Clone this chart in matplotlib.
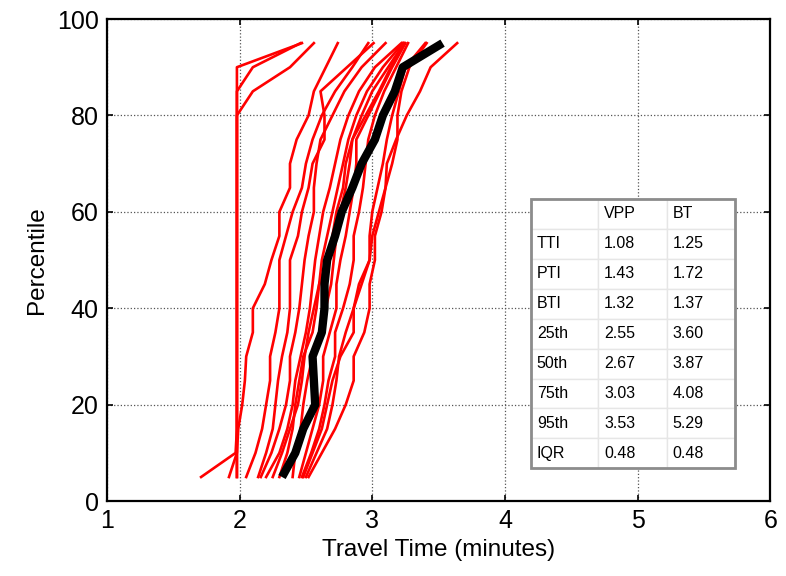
import numpy as np
import matplotlib
matplotlib.use("Agg")
import matplotlib.pyplot as plt

plt.rcParams['font.family'] = ['Liberation Sans', 'DejaVu Sans']

# percentile levels of each curve
pct = [5, 10, 15, 20, 25, 30, 35, 40, 45, 50, 55, 60, 65, 70, 75, 80, 85, 90, 95]

# individual day curves (travel time in minutes at each percentile)
red_lines = [
    [1.71, 1.97, 1.98, 1.98, 1.98, 1.98, 1.98, 1.98, 1.98, 1.98, 1.98, 1.98, 1.98, 1.98, 1.98, 1.98, 1.98, 1.98, 2.47],
    [1.92, 1.98, 1.98, 1.98, 1.98, 1.98, 1.98, 1.98, 1.98, 1.98, 1.98, 1.98, 1.98, 1.98, 1.98, 1.98, 1.98, 2.10, 2.46],
    [1.98, 1.98, 1.98, 1.98, 1.98, 1.98, 1.98, 1.98, 1.98, 1.98, 1.98, 1.98, 1.98, 1.98, 1.98, 1.98, 2.10, 2.38, 2.56],
    [1.98, 1.98, 1.99, 2.02, 2.04, 2.05, 2.10, 2.10, 2.19, 2.24, 2.30, 2.30, 2.38, 2.38, 2.43, 2.52, 2.56, 2.65, 2.74],
    [2.05, 2.12, 2.17, 2.20, 2.23, 2.23, 2.27, 2.30, 2.30, 2.30, 2.35, 2.40, 2.47, 2.50, 2.55, 2.62, 2.72, 2.85, 2.97],
    [2.14, 2.20, 2.25, 2.27, 2.29, 2.32, 2.36, 2.38, 2.38, 2.38, 2.44, 2.47, 2.52, 2.55, 2.64, 2.64, 2.61, 2.81, 3.01],
    [2.16, 2.24, 2.30, 2.35, 2.38, 2.38, 2.42, 2.45, 2.47, 2.49, 2.52, 2.56, 2.56, 2.58, 2.61, 2.70, 2.79, 2.92, 3.10],
    [2.20, 2.30, 2.36, 2.40, 2.42, 2.46, 2.50, 2.53, 2.55, 2.57, 2.60, 2.63, 2.68, 2.72, 2.76, 2.82, 2.90, 3.02, 3.22],
    [2.25, 2.32, 2.38, 2.44, 2.47, 2.49, 2.52, 2.56, 2.60, 2.62, 2.66, 2.70, 2.74, 2.78, 2.82, 2.88, 2.96, 3.08, 3.23],
    [2.40, 2.42, 2.46, 2.48, 2.51, 2.55, 2.60, 2.65, 2.69, 2.71, 2.73, 2.76, 2.80, 2.83, 2.85, 2.92, 3.00, 3.12, 3.24],
    [2.45, 2.50, 2.55, 2.60, 2.63, 2.63, 2.68, 2.73, 2.73, 2.76, 2.80, 2.83, 2.86, 2.88, 2.88, 2.97, 3.06, 3.15, 3.25],
    [2.47, 2.54, 2.60, 2.64, 2.67, 2.72, 2.72, 2.78, 2.83, 2.86, 2.86, 2.90, 2.93, 2.95, 2.97, 3.02, 3.09, 3.18, 3.27],
    [2.50, 2.58, 2.66, 2.70, 2.73, 2.75, 2.80, 2.86, 2.90, 2.98, 2.98, 3.00, 3.04, 3.08, 3.11, 3.15, 3.20, 3.25, 3.40],
    [2.52, 2.62, 2.72, 2.80, 2.86, 2.86, 2.94, 2.98, 2.98, 3.02, 3.02, 3.07, 3.10, 3.15, 3.19, 3.19, 3.22, 3.28, 3.41],
    [2.48, 2.55, 2.62, 2.66, 2.70, 2.76, 2.86, 2.86, 2.92, 2.98, 3.00, 3.05, 3.10, 3.11, 3.18, 3.26, 3.36, 3.44, 3.64],
    [2.30, 2.36, 2.40, 2.42, 2.45, 2.48, 2.55, 2.58, 2.60, 2.66, 2.70, 2.73, 2.78, 2.80, 2.85, 2.95, 3.05, 3.14, 3.24],
]

# overall (VPP) curve
black_line = [2.32, 2.42, 2.48, 2.57, 2.56, 2.55, 2.62, 2.64, 2.64, 2.66, 2.72, 2.77, 2.85, 2.92, 3.02, 3.08, 3.17, 3.23, 3.53]

# summary table
row_labels = ['TTI', 'PTI', 'BTI', '25th', '50th', '75th', '95th', 'IQR']
vpp_vals = ['1.08', '1.43', '1.32', '2.55', '2.67', '3.03', '3.53', '0.48']
bt_vals = ['1.25', '1.72', '1.37', '3.60', '3.87', '4.08', '5.29', '0.48']

fig = plt.figure(figsize=(7.86, 5.76), dpi=100)
ax = fig.add_axes([0.136, 0.130, 0.844, 0.837])

for line in red_lines:
    ax.plot(line, pct, color='red', linewidth=1.9)
ax.plot(black_line, pct, color='black', linewidth=6, solid_capstyle='butt')

ax.set_xlim(1, 6)
ax.set_ylim(0, 100)
ax.set_xticks([1, 2, 3, 4, 5, 6])
ax.set_yticks([0, 20, 40, 60, 80, 100])
ax.grid(True, linestyle=':', color='#555555', linewidth=0.9)
ax.tick_params(direction='in', length=4, labelsize=18, top=True, right=True, width=1.2, pad=6)
for s in ax.spines.values():
    s.set_linewidth(1.6)
ax.set_xlabel('Travel Time (minutes)', fontsize=17.5, labelpad=4)
ax.set_ylabel('Percentile', fontsize=17.5, labelpad=6)

# inset table
cells = [['', 'VPP', 'BT']]
for i in range(len(row_labels)):
    cells.append([row_labels[i], vpp_vals[i], bt_vals[i]])

tab = ax.table(cellText=cells, cellLoc='left',
               colWidths=[0.101, 0.104, 0.102],
               bbox=[0.64, 0.068, 0.307, 0.559])
tab.auto_set_font_size(False)
tab.set_fontsize(11.5)
tab.set_zorder(5)
for (r, c), cell in tab.get_celld().items():
    cell.set_edgecolor('#e6e6e6')
    cell.set_linewidth(1.0)
    cell.set_facecolor('white')
    cell.PAD = 0.08

# gray outer frame of the table
frame = plt.Rectangle((0.64, 0.068), 0.307, 0.559, transform=ax.transAxes,
                      fill=False, edgecolor='#8c8c8c', linewidth=2, zorder=6)
ax.add_patch(frame)

fig.savefig('out.png', dpi=100)
